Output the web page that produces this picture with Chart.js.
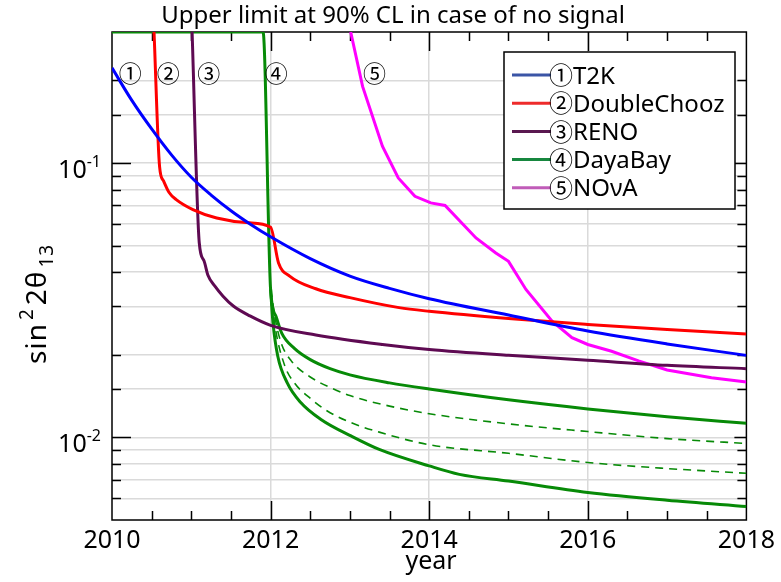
<!DOCTYPE html>
<html>
<head>
<meta charset="utf-8">
<script src="https://cdn.jsdelivr.net/npm/chart.js@4"></script>
<style>
  html, body { margin: 0; padding: 0; background: #fff; }
</style>
</head>
<body>
<canvas id="myChart" width="781" height="582"></canvas>
<script>
// sensitivity curves (year, upper limit on sin^2 2theta13)
let t2kYears = [2010, 2010.25, 2010.5, 2010.75, 2011, 2011.25, 2011.5, 2011.75, 2012, 2012.5, 2013, 2013.5, 2014, 2015, 2016, 2017, 2018]
let t2kLimit = [0.222, 0.169, 0.133, 0.107, 0.0887, 0.0764, 0.067, 0.0597, 0.0538, 0.0448, 0.0387, 0.0349, 0.032, 0.0279, 0.0244, 0.0219, 0.0199]

let dcYears = [2010.53, 2010.6, 2010.65, 2010.72, 2010.81, 2011.02, 2011.32, 2011.73, 2012.0, 2012.1, 2012.24, 2012.57, 2013.0, 2013.62, 2014, 2015, 2016, 2017, 2018]
let dcLimit = [0.3, 0.097, 0.086, 0.078, 0.0735, 0.0676, 0.063, 0.0605, 0.0583, 0.0432, 0.0387, 0.0348, 0.0323, 0.0297, 0.0288, 0.0271, 0.0258, 0.0247, 0.0238]

let renoYears = [2011.01, 2011.1, 2011.16, 2011.21, 2011.3, 2011.4, 2011.53, 2011.74, 2012.0, 2012.57, 2013.41, 2014, 2015, 2016, 2017, 2018]
let renoLimit = [0.3, 0.0513, 0.044, 0.039, 0.0355, 0.0327, 0.0301, 0.0277, 0.0256, 0.0236, 0.0218, 0.0209, 0.0199, 0.0191, 0.0183, 0.0178]

let dybYears = [2010, 2011.905, 2012.0, 2012.07, 2012.14, 2012.3, 2012.5, 2012.75, 2013, 2013.5, 2014, 2015, 2016, 2017, 2018]
let dybLimit = [0.3, 0.3, 0.0346, 0.0275, 0.024, 0.0211, 0.0192, 0.0178, 0.0169, 0.0158, 0.015, 0.0137, 0.0127, 0.0119, 0.01125]

let dybAYears = [2012.0, 2012.07, 2012.14, 2012.26, 2012.5, 2012.75, 2013, 2013.5, 2014, 2015, 2016, 2017, 2018]
let dybALimit = [0.0346, 0.026, 0.0218, 0.019, 0.0166, 0.0152, 0.0142, 0.013, 0.0122, 0.0112, 0.0105, 0.0099, 0.0095]

let dybBYears = [2012.0, 2012.06, 2012.18, 2012.3, 2012.51, 2012.71, 2013.02, 2013.37, 2014, 2015, 2016, 2017, 2018]
let dybBLimit = [0.0346, 0.025, 0.0182, 0.0158, 0.0138, 0.0125, 0.0113, 0.01045, 0.0094, 0.00875, 0.0081, 0.0077, 0.0074]

let dybCYears = [2012.0, 2012.03, 2012.09, 2012.21, 2012.38, 2012.64, 2013.02, 2013.37, 2014, 2014.38, 2015, 2016, 2017, 2018]
let dybCLimit = [0.0346, 0.0262, 0.0198, 0.0158, 0.0134, 0.0116, 0.0101, 0.00904, 0.00787, 0.00733, 0.00693, 0.0063, 0.0059, 0.0056]

let novaYears = [2013.01, 2013.16, 2013.41, 2013.61, 2013.82, 2014.02, 2014.2, 2014.59, 2014.84, 2015.0, 2015.22, 2015.55, 2015.8, 2016.0, 2016.3, 2016.64, 2017.0, 2017.56, 2018]
let novaLimit = [0.3, 0.19, 0.115, 0.0882, 0.0756, 0.0715, 0.07, 0.0533, 0.047, 0.0438, 0.0346, 0.0265, 0.0231, 0.0218, 0.0206, 0.019, 0.0176, 0.0165, 0.0159]

let names = ['T2K', 'DoubleChooz', 'RENO', 'DayaBay', 'NOνA']
let marks = ['①', '②', '③', '④', '⑤']
let lineColors = ['#0000ff', '#ff0000', '#5e0a52', '#078a07', '#ff00ff']
let legendColors = ['#3b55a6', '#ee2b2b', '#5a1850', '#17873f', '#c05cb8']
// where the circled numbers sit in the plot
let markYears = [2010.23, 2010.71, 2011.22, 2012.07, 2013.31]
let markLevel = 0.212

let xMin = 2010, xMax = 2018
let yMin = 0.005, yMax = 0.3

function pts(xs, ys) {
    return xs.map((v, i) => ({x: v, y: ys[i]}))
}

function series(xs, ys, color, extra) {
    return Object.assign({
        data: pts(xs, ys),
        borderColor: color,
        borderWidth: 3,
        pointRadius: 0,
        fill: false,
        cubicInterpolationMode: 'monotone'
    }, extra || {})
}

let font = "'Noto Sans', sans-serif"
let circFont = "'Noto Sans CJK JP', 'Noto Sans', sans-serif"

let decor = {
    id: 'decor',
    beforeDatasetsDraw(chart) {
        let ctx = chart.ctx, a = chart.chartArea, x = chart.scales.x, y = chart.scales.y
        ctx.save()
        ctx.strokeStyle = '#000'
        ctx.lineWidth = 1.5
        ctx.strokeRect(a.left, a.top, a.right - a.left, a.bottom - a.top)
        ctx.beginPath()
        for (let v = xMin + 0.5; v < xMax; v += 0.5) {
            let px = Math.round(x.getPixelForValue(v)) + 0.5
            let len = v % 2 === 0 ? 19 : 9
            ctx.moveTo(px, a.bottom); ctx.lineTo(px, a.bottom - len)
            ctx.moveTo(px, a.top); ctx.lineTo(px, a.top + len)
        }
        y.ticks.forEach(t => {
            if (t.value <= yMin || t.value >= yMax) return
            let py = Math.round(y.getPixelForValue(t.value)) + 0.5
            let major = Math.abs(Math.log10(t.value) - Math.round(Math.log10(t.value))) < 1e-6
            ctx.moveTo(a.left, py); ctx.lineTo(a.left + (major ? 19 : 9), py)
            ctx.moveTo(a.right, py); ctx.lineTo(a.right - (major ? 12 : 9), py)
        })
        ctx.stroke()
        ctx.restore()
    },
    afterDraw(chart) {
        let ctx = chart.ctx, a = chart.chartArea, x = chart.scales.x, y = chart.scales.y
        ctx.save()
        ctx.fillStyle = '#000'

        // title
        ctx.font = '24px ' + font
        ctx.textAlign = 'center'
        ctx.textBaseline = 'alphabetic'
        ctx.fillText('Upper limit at 90% CL in case of no signal', 393, 23)

        // x title
        ctx.font = '25px ' + font
        ctx.fillText('year', 431, 569)

        // y tick labels 10^-1, 10^-2
        ;[0.1, 0.01].forEach(v => {
            let py = y.getPixelForValue(v)
            let exp = String(Math.round(Math.log10(v)))
            ctx.font = '16px ' + font
            let ew = ctx.measureText(exp).width
            ctx.textAlign = 'right'
            ctx.fillText(exp, 101, py + 4)
            ctx.font = '25px ' + font
            ctx.fillText('10', 101 - ew, py + 15)
        })

        // y title sin^2 2theta_13
        ctx.translate(46, 364)
        ctx.rotate(-Math.PI / 2)
        ctx.textAlign = 'left'
        ctx.letterSpacing = '1px'
        let parts = [['sin', 28, 0], ['2', 19, -13], ['2θ', 28, 0], ['13', 19, 7]]
        let cx = 0
        parts.forEach(p => {
            ctx.font = p[1] + 'px ' + font
            ctx.fillText(p[0], cx, p[2])
            cx += ctx.measureText(p[0]).width + 3
        })
        ctx.letterSpacing = '0px'
        ctx.setTransform(1, 0, 0, 1, 0, 0)

        // circled numbers near the curves
        ctx.font = '23px ' + circFont
        ctx.textAlign = 'center'
        ctx.textBaseline = 'middle'
        markYears.forEach((v, i) => {
            ctx.fillText(marks[i], x.getPixelForValue(v), y.getPixelForValue(markLevel))
        })

        // legend box
        let bx = 504, by = 52, bw = 231, bh = 157
        ctx.fillStyle = '#fff'
        ctx.fillRect(bx, by, bw, bh)
        ctx.strokeStyle = '#000'
        ctx.lineWidth = 1.5
        ctx.strokeRect(bx, by, bw, bh)
        names.forEach((n, i) => {
            let ry = 75 + i * 28.2
            ctx.strokeStyle = legendColors[i]
            ctx.lineWidth = 3
            ctx.beginPath()
            ctx.moveTo(512, ry); ctx.lineTo(551, ry)
            ctx.stroke()
            ctx.fillStyle = '#000'
            ctx.textAlign = 'left'
            ctx.textBaseline = 'middle'
            ctx.font = '24px ' + circFont
            ctx.fillText(marks[i], 549, ry)
            ctx.textBaseline = 'alphabetic'
            ctx.font = '24px ' + font
            ctx.fillText(n, 573, ry + 8.5)
        })
        ctx.restore()
    }
}

let ctx = document.getElementById('myChart').getContext('2d')

let myChart = new Chart(ctx, {
    type: 'line',
    data: {
        datasets: [
            series(t2kYears, t2kLimit, lineColors[0]),
            series(dcYears, dcLimit, lineColors[1]),
            series(renoYears, renoLimit, lineColors[2]),
            series(dybAYears, dybALimit, lineColors[3], {borderWidth: 1.6, borderDash: [8, 6]}),
            series(dybBYears, dybBLimit, lineColors[3], {borderWidth: 1.6, borderDash: [8, 6]}),
            series(dybCYears, dybCLimit, lineColors[3]),
            series(dybYears, dybLimit, lineColors[3]),
            series(novaYears, novaLimit, lineColors[4], {cubicInterpolationMode: 'default', tension: 0}),
        ]
    },
    options: {
        responsive: false,
        animation: false,
        devicePixelRatio: 1,
        layout: {padding: {top: 32, right: 33, left: 0, bottom: 0}},
        plugins: {
            legend: {display: false},
            tooltip: {enabled: false},
            title: {display: false}
        },
        scales: {
            x: {
                type: 'linear',
                min: xMin,
                max: xMax,
                afterFit: s => { s.height = 62 },
                border: {display: false},
                grid: {
                    drawTicks: false,
                    lineWidth: 1.5,
                    color: c => (c.tick && c.tick.value > xMin && c.tick.value < xMax) ? '#dadada' : 'rgba(0,0,0,0)'
                },
                ticks: {
                    stepSize: 2,
                    padding: 6,
                    color: '#000',
                    maxRotation: 0,
                    autoSkip: false,
                    font: {family: 'Noto Sans', size: 25},
                    callback: v => String(v)
                }
            },
            y: {
                type: 'logarithmic',
                min: yMin,
                max: yMax,
                afterFit: s => { s.width = 112 },
                border: {display: false},
                grid: {
                    drawTicks: false,
                    lineWidth: 1.5,
                    color: c => (c.tick && c.tick.value > yMin * 1.01 && c.tick.value < yMax * 0.99) ? '#dadada' : 'rgba(0,0,0,0)'
                },
                ticks: {
                    autoSkip: false,
                    callback: () => ''
                }
            }
        }
    },
    plugins: [decor]
})
</script>
</body>
</html>
